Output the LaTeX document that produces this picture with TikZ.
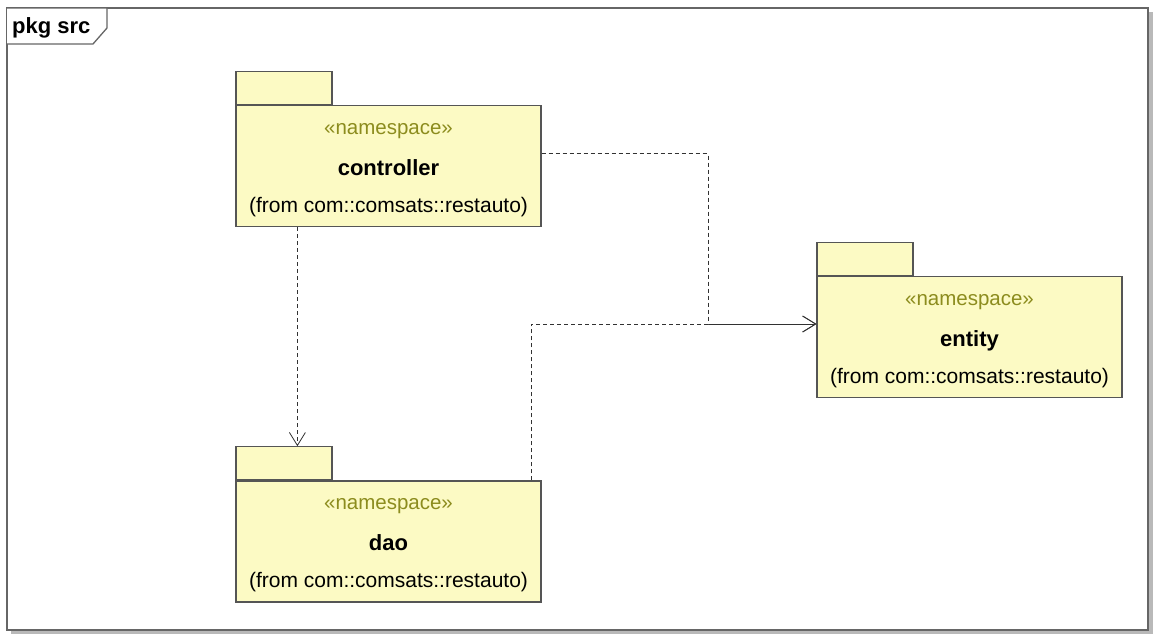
\documentclass[tikz,border=0pt]{standalone}
\usepackage{fontspec}
\setmainfont{Liberation Sans}
\usetikzlibrary{arrows.meta,calc}
\definecolor{pkgfill}{RGB}{252,250,196}
\definecolor{pkgline}{RGB}{85,85,85}
\definecolor{stereo}{RGB}{140,140,30}
\definecolor{conn}{RGB}{50,50,50}
\tikzset{
  pkgbody/.style={draw=pkgline, fill=pkgfill, line width=1.2pt, minimum width=305pt, minimum height=121pt, inner sep=0pt},
  pkgtab/.style={draw=pkgline, fill=pkgfill, line width=1.2pt, minimum width=96pt, minimum height=33pt, inner sep=0pt, anchor=south west},
  stereotxt/.style={text=stereo, font=\fontsize{20.5}{24}\selectfont, inner sep=0pt, anchor=base},
  nametxt/.style={font=\fontsize{22}{26}\selectfont\bfseries, inner sep=0pt, anchor=base},
  fromtxt/.style={font=\fontsize{21}{25}\selectfont, inner sep=0pt, anchor=base},
  dep/.style={draw=conn, line width=1pt, dash pattern=on 4pt off 3pt},
  deparrow/.style={dep, -{Straight Barb[length=13pt,width=16pt,line width=0.8pt]}},
}
\begin{document}
\begin{tikzpicture}[x=1pt,y=-1pt]
\useasboundingbox (0,0) rectangle (1156,635);
% frame with shadow
\fill[gray!55] (11,12) rectangle (1153,634);
\draw[draw=gray!80!black, fill=white, line width=1.3pt] (7,8) rectangle (1148,630);
\draw[draw=gray!80!black, fill=white, line width=1.3pt] (7,8) -- (107,8) -- (107,28) -- (93,44) -- (7,44);
\node[anchor=base west, font=\fontsize{22}{26}\selectfont\bfseries, inner sep=0pt] (lbl) at (12,33) {pkg src};

% controller
\node[pkgbody] (ctrl) at (388.5,166) {};
\node[pkgtab] (ctab) at (ctrl.north west) {};
\node[stereotxt] (cst) at ($(ctrl.center)+(0,-32)$) {«namespace»};
\node[nametxt] (cnm) at ($(ctrl.center)+(0,9)$) {controller};
\node[fromtxt] (cfr) at ($(ctrl.center)+(0,46)$) {(from com::comsats::restauto)};

% entity
\node[pkgbody] (ent) at (969.5,337) {};
\node[pkgtab] (etab) at (ent.north west) {};
\node[stereotxt] (est) at ($(ent.center)+(0,-32)$) {«namespace»};
\node[nametxt] (enm) at ($(ent.center)+(0,9)$) {entity};
\node[fromtxt] (efr) at ($(ent.center)+(0,46)$) {(from com::comsats::restauto)};

% dao
\node[pkgbody] (dao) at (388.5,541.5) {};
\node[pkgtab] (dtab) at (dao.north west) {};
\node[stereotxt] (dst) at ($(dao.center)+(0,-32)$) {«namespace»};
\node[nametxt] (dnm) at ($(dao.center)+(0,9)$) {dao};
\node[fromtxt] (dfr) at ($(dao.center)+(0,46)$) {(from com::comsats::restauto)};

% connectors
\coordinate (j) at (708,324);
\draw[deparrow] ($(ctrl.south west)+(62,0)$) -- ($(dtab.north west)+(62,0)$);
\draw[deparrow] ($(ctrl.north east)+(0,49)$) -| (j) -- (j -| ent.west);
\draw[deparrow] ($(dao.north west)+(296,0)$) |- (j) -- (j -| ent.west);
\end{tikzpicture}
\end{document}
